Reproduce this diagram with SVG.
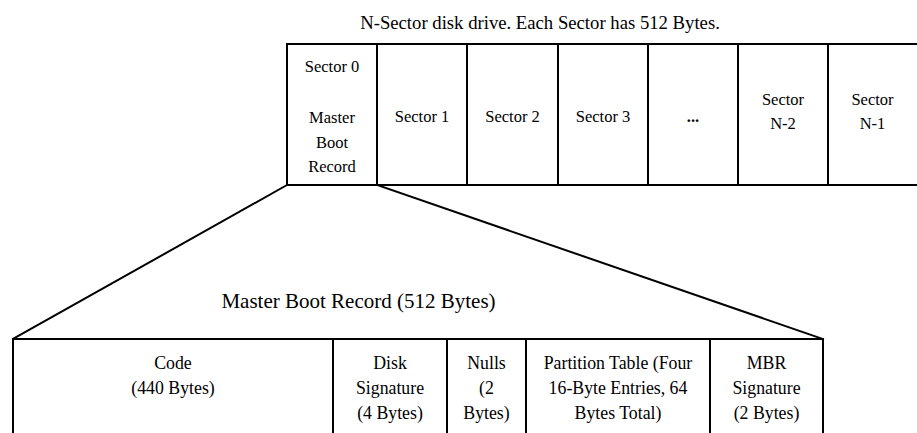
<svg xmlns="http://www.w3.org/2000/svg" width="917" height="433" viewBox="0 0 917 433" font-family="'Liberation Serif', 'DejaVu Serif', serif">
  <style>
    .ln { stroke: #000; stroke-width: 2; fill: none; stroke-linecap: square; }
    text { font-family: "Liberation Serif", "DejaVu Serif", serif; fill: #000; text-anchor: middle; }
    .cap { font-size: 18.7px; }
    .s { font-size: 16.5px; }
    .b { font-size: 17.8px; }
  </style>
  <rect width="917" height="433" fill="#fff"/>

  <!-- disk drive caption -->
  <text id="drive-title" class="cap" x="540" y="29">N-Sector disk drive. Each Sector has 512 Bytes.</text>

  <!-- sector strip -->
  <g id="sector-row">
    <path class="ln" d="M287,44 H917 M287,185 H917"/>
    <g id="sector-0">
      <path class="ln" d="M287,44 V185"/>
      <text class="s" x="332" y="72">Sector 0</text>
      <text class="s" x="332" y="123">Master</text>
      <text class="s" x="332" y="148">Boot</text>
      <text class="s" x="332" y="172">Record</text>
    </g>
    <g id="sector-1">
      <path class="ln" d="M377,44 V185"/>
      <text class="s" x="422" y="122">Sector 1</text>
    </g>
    <g id="sector-2">
      <path class="ln" d="M467,44 V185"/>
      <text class="s" x="512.5" y="122">Sector 2</text>
    </g>
    <g id="sector-3">
      <path class="ln" d="M558,44 V185"/>
      <text class="s" x="603" y="122">Sector 3</text>
    </g>
    <g id="sector-ellipsis">
      <path class="ln" d="M648,44 V185"/>
      <text class="s" x="693" y="122" font-weight="bold">...</text>
    </g>
    <g id="sector-n2">
      <path class="ln" d="M738,44 V185"/>
      <text class="s" x="783" y="105">Sector</text>
      <text class="s" x="783" y="129">N-2</text>
    </g>
    <g id="sector-n1">
      <path class="ln" d="M828,44 V185"/>
      <text class="s" x="872.5" y="105">Sector</text>
      <text class="s" x="872.5" y="129">N-1</text>
    </g>
  </g>

  <!-- expansion lines from sector 0 to the MBR layout -->
  <g id="connectors">
    <path class="ln" d="M287,185 L13,339"/>
    <path class="ln" d="M377,185 L823,339"/>
  </g>

  <text id="mbr-title" x="358.5" y="308" style="font-size:21px">Master Boot Record (512 Bytes)</text>

  <!-- MBR layout -->
  <g id="mbr-row">
    <path class="ln" d="M13,339 H823"/>
    <g id="mbr-code">
      <path class="ln" d="M13,339 V434"/>
      <text class="b" x="173" y="369">Code</text>
      <text class="b" x="173" y="394">(440 Bytes)</text>
    </g>
    <g id="mbr-disk-signature">
      <path class="ln" d="M333,339 V434"/>
      <text class="b" x="390" y="369">Disk</text>
      <text class="b" x="390" y="394">Signature</text>
      <text class="b" x="390" y="419">(4 Bytes)</text>
    </g>
    <g id="mbr-nulls">
      <path class="ln" d="M447,339 V434"/>
      <text class="b" x="486.5" y="369">Nulls</text>
      <text class="b" x="486.5" y="394">(2</text>
      <text class="b" x="486.5" y="419">Bytes)</text>
    </g>
    <g id="mbr-partition-table">
      <path class="ln" d="M526,339 V434"/>
      <text class="b" x="618" y="369">Partition Table (Four</text>
      <text class="b" x="618" y="394">16-Byte Entries, 64</text>
      <text class="b" x="618" y="419">Bytes Total)</text>
    </g>
    <g id="mbr-signature">
      <path class="ln" d="M710,339 V434"/>
      <path class="ln" d="M823,339 V434"/>
      <text class="b" x="766.5" y="369">MBR</text>
      <text class="b" x="766.5" y="394">Signature</text>
      <text class="b" x="766.5" y="419">(2 Bytes)</text>
    </g>
  </g>
</svg>
